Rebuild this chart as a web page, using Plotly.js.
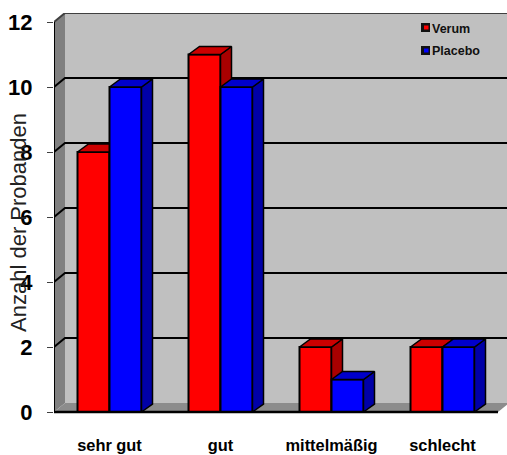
<!DOCTYPE html>
<html><head><meta charset="utf-8">
<script src="https://cdn.plot.ly/plotly-3.0.1.min.js"></script>
<style>html,body{margin:0;padding:0;background:#fff}</style></head>
<body><div id="c" style="width:507px;height:455px"></div>
<script>
const categories = ['sehr gut','gut','mittelmäßig','schlecht'];
const verum = [8,11,2,2];
const placebo = [10,10,1,2];
const yTicks = [0,2,4,6,8,10,12];
const positions = [0,1,2,3];

const W=507,H=455,mL=54,mR=0,mT=13,mB=23;
const pxX=111, pxY=32.5;
const xR=[-0.5,-0.5+(W-mL-mR)/pxX];
const yR=[-(H-mB-mT-399)/pxY, 399/pxY];
const wallDx=11/pxX, wallDy=9/pxY, barDx=11/pxX, barDy=8/pxY, barW=32/pxX;
const px=(x)=>(x-mL)/(W-mL-mR), py=(y)=>(H-mB-y)/(H-mB-mT);

function poly(pts){return 'M'+pts.map(p=>p.join(',')).join('L')+'Z';}
const shapes=[];
const L=-0.5,Rt=3.5;
shapes.push({type:'path',layer:'below',xref:'x',yref:'y',path:poly([[L+wallDx,wallDy],[xR[1]+1,wallDy],[xR[1]+1,12+wallDy],[L+wallDx,12+wallDy]]),fillcolor:'#c0c0c0',line:{width:0}});
shapes.push({type:'path',layer:'below',xref:'x',yref:'y',path:poly([[L,0],[L+wallDx,wallDy],[L+wallDx,12+wallDy],[L,12]]),fillcolor:'#808080',line:{width:0}});
shapes.push({type:'path',layer:'below',xref:'x',yref:'y',path:poly([[L,0],[Rt,0],[Rt+wallDx,wallDy],[L+wallDx,wallDy]]),fillcolor:'#8c8c8c',line:{width:0}});
yTicks.forEach(t=>{
  if(t===0) return;
  const col=t===12?'#404040':'#000';
  shapes.push({type:'path',layer:'below',xref:'x',yref:'y',path:`M${L},${t}L${L+wallDx},${t+wallDy}L${xR[1]+1},${t+wallDy}`,line:{color:col,width:2}});
});
shapes.push({type:'line',layer:'below',xref:'x',yref:'y',x0:L,x1:L,y0:0,y1:12,line:{color:'#000',width:2}});
shapes.push({type:'line',layer:'above',xref:'x',yref:'y',x0:L,x1:Rt,y0:0,y1:0,line:{color:'#000',width:2.5}});

function depthTraces(vals,off,top,side,xa,ya){
  const out=[];
  vals.forEach((v,i)=>{
    const a=positions[i]+off, b=a+barW;
    out.push({type:'scatter',mode:'lines',xaxis:xa,yaxis:ya,hoverinfo:'skip',showlegend:false,fill:'toself',fillcolor:side,line:{color:'#000',width:1.5},
      x:[b,b+barDx,b+barDx,b,b],y:[0,barDy,v+barDy,v,0]});
    out.push({type:'scatter',mode:'lines',xaxis:xa,yaxis:ya,hoverinfo:'skip',showlegend:false,fill:'toself',fillcolor:top,line:{color:'#000',width:1.5},
      x:[a,b,b+barDx,a+barDx,a],y:[v,v,v+barDy,v+barDy,v]});
  });
  return out;
}
const traces=[
  {type:'bar',name:'Verum',x:positions,y:verum,width:barW,offset:-barW,marker:{color:'#ff0000',line:{color:'#000',width:2}},xaxis:'x',yaxis:'y',showlegend:false},
  ...depthTraces(verum,-barW,'#cc0000','#a80000','x','y'),
  {type:'bar',name:'Placebo',x:positions,y:placebo,width:barW,offset:0,marker:{color:'#0000ff',line:{color:'#000',width:2}},xaxis:'x2',yaxis:'y2',showlegend:false},
  ...depthTraces(placebo,0,'#0000cc','#0000a8','x2','y2')
];
function swatch(y0,col){
  shapes.push({type:'rect',layer:'above',xref:'paper',yref:'paper',x0:px(421),x1:px(430),y0:py(y0),y1:py(y0+9),fillcolor:'#111',line:{width:0}});
  shapes.push({type:'rect',layer:'above',xref:'paper',yref:'paper',x0:px(424),x1:px(428.5),y0:py(y0+2.5),y1:py(y0+6.5),fillcolor:col,line:{width:0}});
}
swatch(23,'#ff0000');swatch(46,'#0000ff');
const legendFont={family:'Liberation Sans, Arial, sans-serif',size:12.5,color:'#111'};
const annotations=[
 {xref:'paper',yref:'paper',x:px(430.5),y:py(29),xanchor:'left',yanchor:'middle',text:'<b>Verum</b>',showarrow:false,font:legendFont,borderpad:0},
 {xref:'paper',yref:'paper',x:px(430.5),y:py(51),xanchor:'left',yanchor:'middle',text:'<b>Placebo</b>',showarrow:false,font:legendFont,borderpad:0}
];
const layout={
  width:W,height:H,margin:{l:mL,r:mR,t:mT,b:mB,pad:0},paper_bgcolor:'#fff',plot_bgcolor:'#fff',
  showlegend:false,barmode:'overlay',shapes,annotations,
  font:{family:'Liberation Sans, Arial, sans-serif',color:'#000'},
  xaxis:{range:xR,tickmode:'array',tickvals:positions,ticktext:categories.map(c=>'<b>'+c+'</b>'),tickfont:{size:16.4},ticklabelstandoff:2,showgrid:false,zeroline:false,ticks:'',showline:false,fixedrange:true},
  yaxis:{range:yR,tickmode:'array',tickvals:yTicks,ticktext:yTicks.map(t=>'<b>'+t+'</b>'),tickfont:{size:22},showgrid:false,zeroline:false,ticks:'outside',ticklen:6,tickwidth:1,tickcolor:'#404040',ticklabelstandoff:10,showline:false,fixedrange:true},
  xaxis2:{overlaying:'x',range:xR,visible:false,fixedrange:true},
  yaxis2:{overlaying:'y',side:'left',range:yR,showticklabels:false,ticks:'',showgrid:false,zeroline:false,showline:false,fixedrange:true,automargin:'height',
    title:{text:'Anzahl der Probanden',font:{size:22,color:'#222'},standoff:20}}
};
Plotly.newPlot('c',traces,layout,{displayModeBar:false,staticPlot:true});
</script></body></html>
